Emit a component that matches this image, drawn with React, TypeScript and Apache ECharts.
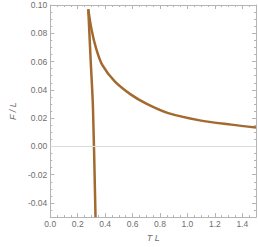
import React, { useEffect, useRef } from "react";
import * as echarts from "echarts";

// Upper branch (F/L vs T L)
const upperT = [0.277, 0.3, 0.335, 0.38, 0.47, 0.586, 0.7, 0.86, 1.09, 1.32, 1.5];
const upperF = [0.097, 0.083, 0.069, 0.0574, 0.046, 0.0368, 0.0302, 0.0235, 0.0184, 0.0154, 0.0134];
// Steep lower branch
const lowerT = [0.277, 0.295, 0.311, 0.33];
const lowerF = [0.097, 0.06, 0.028, -0.05];

const yMajor = [-0.04, -0.02, 0.0, 0.02, 0.04, 0.06, 0.08, 0.1];
const yMinor = [
  -0.045, -0.035, -0.03, -0.025, -0.015, -0.01, -0.005, 0.005, 0.01, 0.015, 0.025, 0.03, 0.035,
  0.045, 0.05, 0.055, 0.065, 0.07, 0.075, 0.085, 0.09, 0.095,
];

const FRAME = "#b4b4b4";
const LABEL = "#6e6e6e";
const FONT = "Liberation Sans";
const CURVE = "#a36a30";

export default function App() {
  const ref = useRef<HTMLDivElement>(null);
  useEffect(() => {
    if (!ref.current) return;
    const chart = echarts.init(ref.current, null, { renderer: "svg" });
    const xBase = {
      type: "value" as const,
      min: 0,
      max: 1.5,
      interval: 0.2,
      splitLine: { show: false },
      axisLine: { show: true, onZero: false, lineStyle: { color: FRAME, width: 1 } },
      axisTick: { show: true, inside: true, length: 4, lineStyle: { color: FRAME } },
      minorTick: { show: true, splitNumber: 4, length: 2, lineStyle: { color: FRAME } },
    };
    const yBase = {
      type: "value" as const,
      min: -0.05,
      max: 0.1,
      splitLine: { show: false },
    };
    chart.setOption({
      animation: false,
      grid: { left: 38, top: 5, right: 2, bottom: 24, containLabel: false },
      xAxis: [
        {
          ...xBase,
          position: "bottom",
          name: "T L",
          nameLocation: "middle",
          nameGap: 15,
          nameTextStyle: { color: LABEL, fontStyle: "italic", fontFamily: FONT, fontSize: 9 },
          axisLabel: {
            color: LABEL,
            fontFamily: FONT,
            fontSize: 8.5,
            margin: 2,
            showMaxLabel: false,
            formatter: (v: number) => v.toFixed(1),
          },
        },
        { ...xBase, position: "top", axisLabel: { show: false } },
      ],
      yAxis: [
        {
          ...yBase,
          position: "left",
          name: "F / L",
          nameLocation: "middle",
          nameGap: 32,
          nameTextStyle: { color: LABEL, fontStyle: "italic", fontFamily: FONT, fontSize: 9 },
          axisLine: { show: true, onZero: false, lineStyle: { color: FRAME, width: 1 } },
          axisTick: { show: true, inside: true, length: 4, customValues: yMajor, lineStyle: { color: FRAME } },
          axisLabel: {
            color: LABEL,
            fontFamily: FONT,
            fontSize: 8.5,
            margin: 3,
            customValues: yMajor,
            formatter: (v: number) => (Math.abs(v) < 1e-9 ? "0.00" : v.toFixed(2)),
          },
        },
        {
          ...yBase,
          position: "left",
          axisLine: { show: false, onZero: false },
          axisLabel: { show: false },
          axisTick: { show: true, inside: true, length: 2, customValues: yMinor, lineStyle: { color: FRAME } },
        },
        {
          ...yBase,
          position: "right",
          axisLine: { show: true, onZero: false, lineStyle: { color: FRAME, width: 1 } },
          axisLabel: { show: false },
          axisTick: { show: true, inside: true, length: 4, customValues: yMajor, lineStyle: { color: FRAME } },
        },
        {
          ...yBase,
          position: "right",
          axisLine: { show: false, onZero: false },
          axisLabel: { show: false },
          axisTick: { show: true, inside: true, length: 2, customValues: yMinor, lineStyle: { color: FRAME } },
        },
      ],
      series: [
        {
          type: "line",
          xAxisIndex: 0,
          yAxisIndex: 0,
          data: upperT.map((t, i) => [t, upperF[i]]),
          showSymbol: false,
          smooth: 0.3,
          lineStyle: { color: CURVE, width: 2.5 },
          markLine: {
            silent: true,
            symbol: "none",
            label: { show: false },
            lineStyle: { color: "#dcdcdc", width: 1, type: "solid" },
            data: [{ yAxis: 0 }],
          },
          z: 3,
        },
        {
          type: "line",
          xAxisIndex: 0,
          yAxisIndex: 0,
          data: lowerT.map((t, i) => [t, lowerF[i]]),
          showSymbol: false,
          smooth: 0.3,
          lineStyle: { color: CURVE, width: 2.5 },
          z: 3,
        },
      ],
    });
    return () => chart.dispose();
  }, []);
  return (
    <div
      ref={ref}
      style={{ position: "fixed", left: 0, top: 0, width: 258, height: 247, background: "#fff" }}
    />
  );
}
